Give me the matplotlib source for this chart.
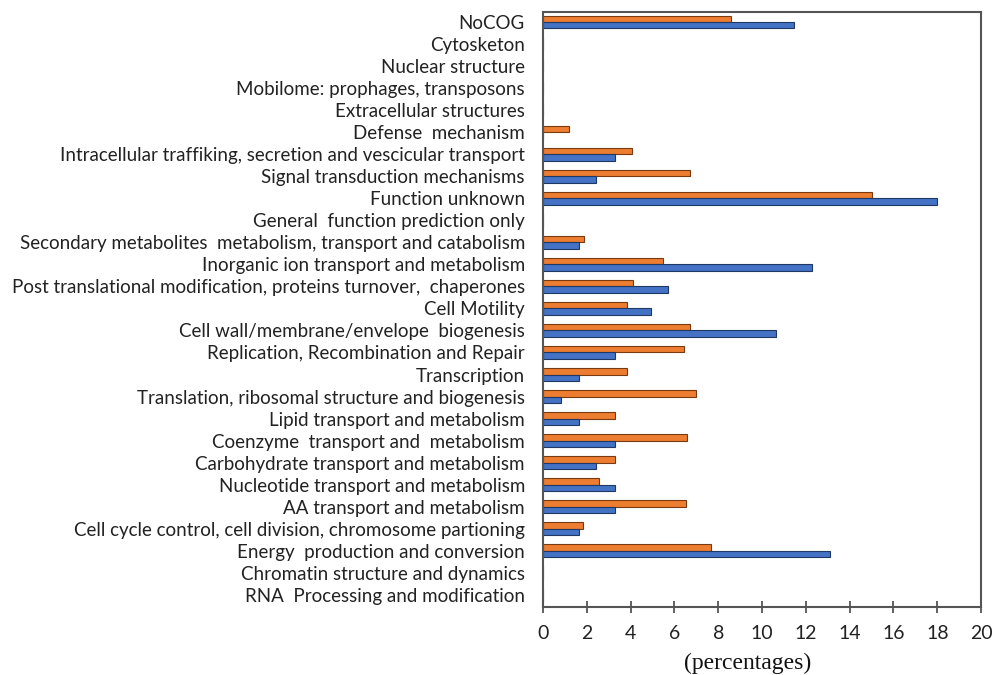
import matplotlib
matplotlib.use("Agg")
import matplotlib.pyplot as plt
import numpy as np

categories = [
    "NoCOG",
    "Cytosketon",
    "Nuclear structure",
    "Mobilome: prophages, transposons",
    "Extracellular structures",
    "Defense  mechanism",
    "Intracellular traffiking, secretion and vescicular transport",
    "Signal transduction mechanisms",
    "Function unknown",
    "General  function prediction only",
    "Secondary metabolites  metabolism, transport and catabolism",
    "Inorganic ion transport and metabolism",
    "Post translational modification, proteins turnover,  chaperones",
    "Cell Motility",
    "Cell wall/membrane/envelope  biogenesis",
    "Replication, Recombination and Repair",
    "Transcription",
    "Translation, ribosomal structure and biogenesis",
    "Lipid transport and metabolism",
    "Coenzyme  transport and  metabolism",
    "Carbohydrate transport and metabolism",
    "Nucleotide transport and metabolism",
    "AA transport and metabolism",
    "Cell cycle control, cell division, chromosome partioning",
    "Energy  production and conversion",
    "Chromatin structure and dynamics",
    "RNA  Processing and modification",
]

orange_vals = [8.6, 0, 0, 0, 0, 1.2, 4.06, 6.7, 15.0, 0, 1.87, 5.49, 4.1, 3.82,
               6.7, 6.42, 3.82, 6.97, 3.27, 6.58, 3.27, 2.56, 6.52, 1.83, 7.67, 0, 0]
blue_vals = [11.48, 0, 0, 0, 0, 0, 3.27, 2.43, 18.0, 0, 1.63, 12.28, 5.72, 4.92,
             10.64, 3.27, 1.63, 0.82, 1.63, 3.27, 2.43, 3.27, 3.27, 1.63, 13.12, 0, 0]

xticks = list(range(0, 21, 2))

fig = plt.figure(figsize=(9.92, 6.75), dpi=100)
ax = fig.add_axes([0.5474, 0.1007, 0.4416, 0.8815])

n = len(categories)
ypos = np.arange(n)[::-1]
h = 0.29
ax.barh(ypos + h / 2, orange_vals, height=h, color="#ED7D31", edgecolor="#7a3a10", linewidth=0.8)
ax.barh(ypos - h / 2, blue_vals, height=h, color="#4472C4", edgecolor="#1f3864", linewidth=0.8)

ax.set_ylim(-0.55, n - 0.55)
ax.set_xlim(0, 20)
ax.set_yticks(ypos)
ax.set_yticklabels(categories, fontfamily="Lato", fontsize=13.5, color="#222222")
ax.tick_params(axis="y", length=0, pad=13)
ax.set_xticks(xticks)
ax.set_xticklabels([str(t) for t in xticks], fontfamily="Lato", fontsize=14, color="#222222")
ax.tick_params(axis="x", direction="inout", length=8, width=1.3, color="#555555", pad=9)

for s in ax.spines.values():
    s.set_color("#555555")
    s.set_linewidth(1.5)

ax.set_xlabel("(percentages)", fontfamily="Liberation Serif", fontsize=17, color="#111111")
ax.xaxis.set_label_coords(0.466, -0.094)
ax.xaxis.label.set_verticalalignment("center")

fig.savefig("out.png", dpi=100)
